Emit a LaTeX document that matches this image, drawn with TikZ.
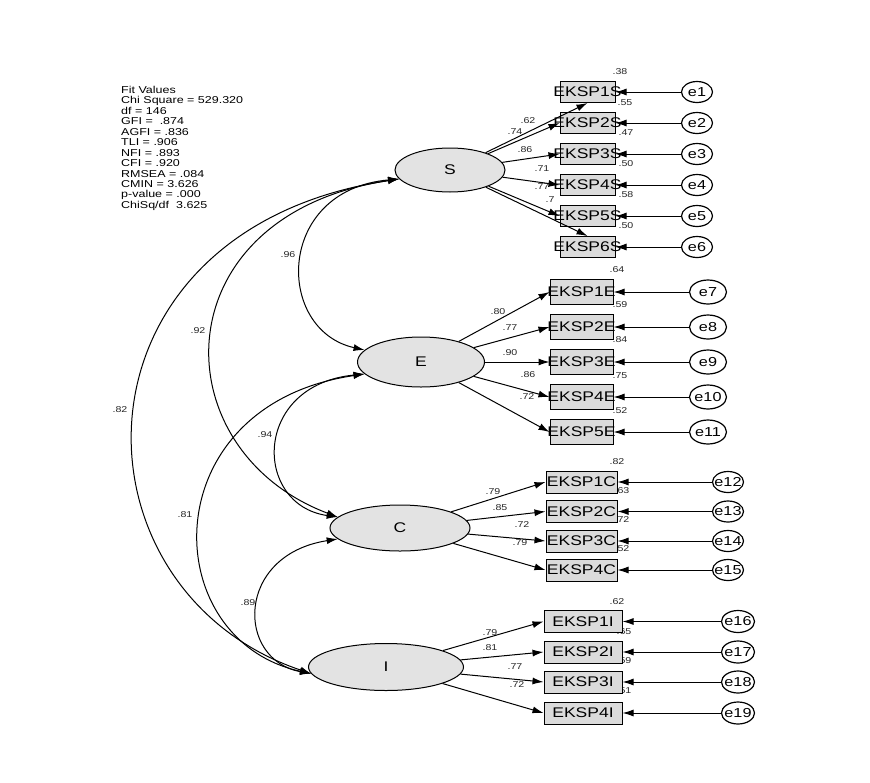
\documentclass[tikz,border=0pt]{standalone}
\usepackage{fontspec}
\setmainfont{Liberation Sans}
\usepackage{graphicx}
\usetikzlibrary{shapes.geometric,arrows.meta}
\newcommand{\hx}[1]{\scalebox{1.25}[1]{#1}}
\begin{document}
\begin{tikzpicture}[x=1pt,y=-1pt,
  lat/.style={ellipse,draw,line width=1pt,fill=gray!22,inner sep=0pt,font=\fontsize{14}{14}\selectfont},
  obs/.style={rectangle,draw,line width=1pt,fill=gray!28,inner sep=0pt,minimum height=21pt,font=\fontsize{14}{14}\selectfont},
  err/.style={ellipse,draw,line width=1.2pt,fill=white,inner sep=0pt,minimum width=31pt,minimum height=21pt,font=\fontsize{13}{13}\selectfont},
  num/.style={inner sep=0pt,font=\fontsize{8.5}{8.5}\selectfont,text=black!85},
  arr/.style={-{Latex[length=11pt,width=7pt]},line width=1pt},
  cov/.style={{Latex[length=11pt,width=7pt]}-{Latex[length=11pt,width=7pt]},line width=1pt},
]
\useasboundingbox[fill=white] (0,0) rectangle (870,782);

% fit values
\node[anchor=north west,inner sep=0pt,font=\fontsize{10}{10.45}\selectfont,align=left] (fit) at (121,86)
 {\hx{Fit Values}\\ \hx{Chi Square = 529.320}\\ \hx{df = 146}\\ \hx{GFI = \ .874}\\ \hx{AGFI = .836}\\
  \hx{TLI = .906}\\ \hx{NFI = .893}\\ \hx{CFI = .920}\\ \hx{RMSEA = .084}\\ \hx{CMIN = 3.626}\\
  \hx{p-value = .000}\\ \hx{ChiSq/df \ 3.625}};

% numeric labels (drawn first, arrows lie over them)
\foreach \n/\x/\y/\t in {1/620/72/.38,2/625/103/.55,3/626/133/.47,4/626/164/.50,5/626/195/.58,6/626/226/.50,
  7/617/270/.64,8/620/305/.59,9/620/340/.84,10/620/376/.75,11/620/411/.52,
  12/617/462/.82,13/622/491/.63,14/622/520/.72,15/622/549/.52,
  16/617/602/.62,17/624/632/.65,18/624/661/.59,19/624/691/.51}
  \node[num] (q\n) at (\x,\y) {\hx{\t}};
\foreach \n/\x/\y/\t in {1/528/121/.62,2/515/132/.74,3/525/150/.86,4/542/169/.71,5/542/187/.77,6/550/200/.7,
  7/498/312/.80,8/510/328/.77,9/510/353/.90,10/528/375/.86,11/527/397/.72,
  12/493/492/.79,13/500/508/.85,14/522/525/.72,15/520/543/.79,
  16/490/633/.79,17/490/648/.81,18/515/667/.77,19/517/685/.72}
  \node[num] (w\n) at (\x,\y) {\hx{\t}};
\foreach \n/\x/\y/\t in {1/288/255/.96,2/198/331/.92,3/120/410/.82,4/265/435/.94,5/185/515/.81,6/248/603/.89}
  \node[num] (k\n) at (\x,\y) {\hx{\t}};

% latent variables
\node[lat,minimum width=110pt,minimum height=44pt] (S) at (450,170) {\makebox[0pt]{\hx{S}}};
\node[lat,minimum width=127pt,minimum height=50pt] (E) at (421,362) {\makebox[0pt]{\hx{E}}};
\node[lat,minimum width=140pt,minimum height=46pt] (C) at (400,528) {\makebox[0pt]{\hx{C}}};
\node[lat,minimum width=155pt,minimum height=47pt] (I) at (386,667) {\makebox[0pt]{\hx{I}}};

% S indicators
\foreach \i/\y [evaluate=\i as \k using int(\i)] in {1/92,2/123,3/154,4/185,5/216,6/247}{
  \node[obs,minimum width=55pt] (bS\i) at (587.5,\y) {\makebox[0pt]{\hx{EKSP\i S}}};
  \node[err] (r\k) at (697,\y) {\makebox[0pt]{\hx{e\k}}};
  \draw[arr] (r\k) -- (bS\i);
}
\draw[arr] (S) -- (bS1.south);
\foreach \i in {2,3,4,5} \draw[arr] (S) -- (bS\i.west);
\draw[arr] (S) -- (bS6.north);

% E indicators
\foreach \i/\y [evaluate=\i as \k using int(\i+6)] in {1/292,2/327,3/362,4/397,5/432}{
  \node[obs,minimum width=63pt,minimum height=25pt] (bE\i) at (581.5,\y) {\makebox[0pt]{\hx{EKSP\i E}}};
  \node[err,minimum width=37pt,minimum height=24pt] (r\k) at (708,\y) {\makebox[0pt]{\hx{e\k}}};
  \draw[arr] (r\k) -- (bE\i);
  \draw[arr] (E) -- (bE\i.west);
}

% C indicators
\foreach \i/\y [evaluate=\i as \k using int(\i+11)] in {1/482,2/511.5,3/541,4/570}{
  \node[obs,minimum width=71pt,minimum height=22pt] (bC\i) at (581.5,\y) {\makebox[0pt]{\hx{EKSP\i C}}};
  \node[err] (r\k) at (728,\y) {\makebox[0pt]{\hx{e\k}}};
  \draw[arr] (r\k) -- (bC\i);
  \draw[arr] (C) -- (bC\i.west);
}

% I indicators
\foreach \i/\y [evaluate=\i as \k using int(\i+15)] in {1/621.5,2/652,3/682,4/713}{
  \node[obs,minimum width=78pt,minimum height=22pt] (bI\i) at (583,\y) {\makebox[0pt]{\hx{EKSP\i I}}};
  \node[err,minimum width=33pt,minimum height=22pt] (r\k) at (738,\y) {\makebox[0pt]{\hx{e\k}}};
  \draw[arr] (r\k) -- (bI\i);
  \draw[arr] (I) -- (bI\i.west);
}

% covariances
\draw[cov] (S.190) .. controls (275,190) and (275,330) .. (E.168);
\draw[cov] (S.190) .. controls (160,215) and (160,450) .. (C.170);
\draw[cov] (S.190) .. controls (60,230) and (63,590) .. (I.185);
\draw[cov] (E.192) .. controls (252,385) and (253,505) .. (C.170);
\draw[cov] (E.192) .. controls (152,405) and (156,640) .. (I.185);
\draw[cov] (C.190) .. controls (235,555) and (236,660) .. (I.185);
\end{tikzpicture}
\end{document}
